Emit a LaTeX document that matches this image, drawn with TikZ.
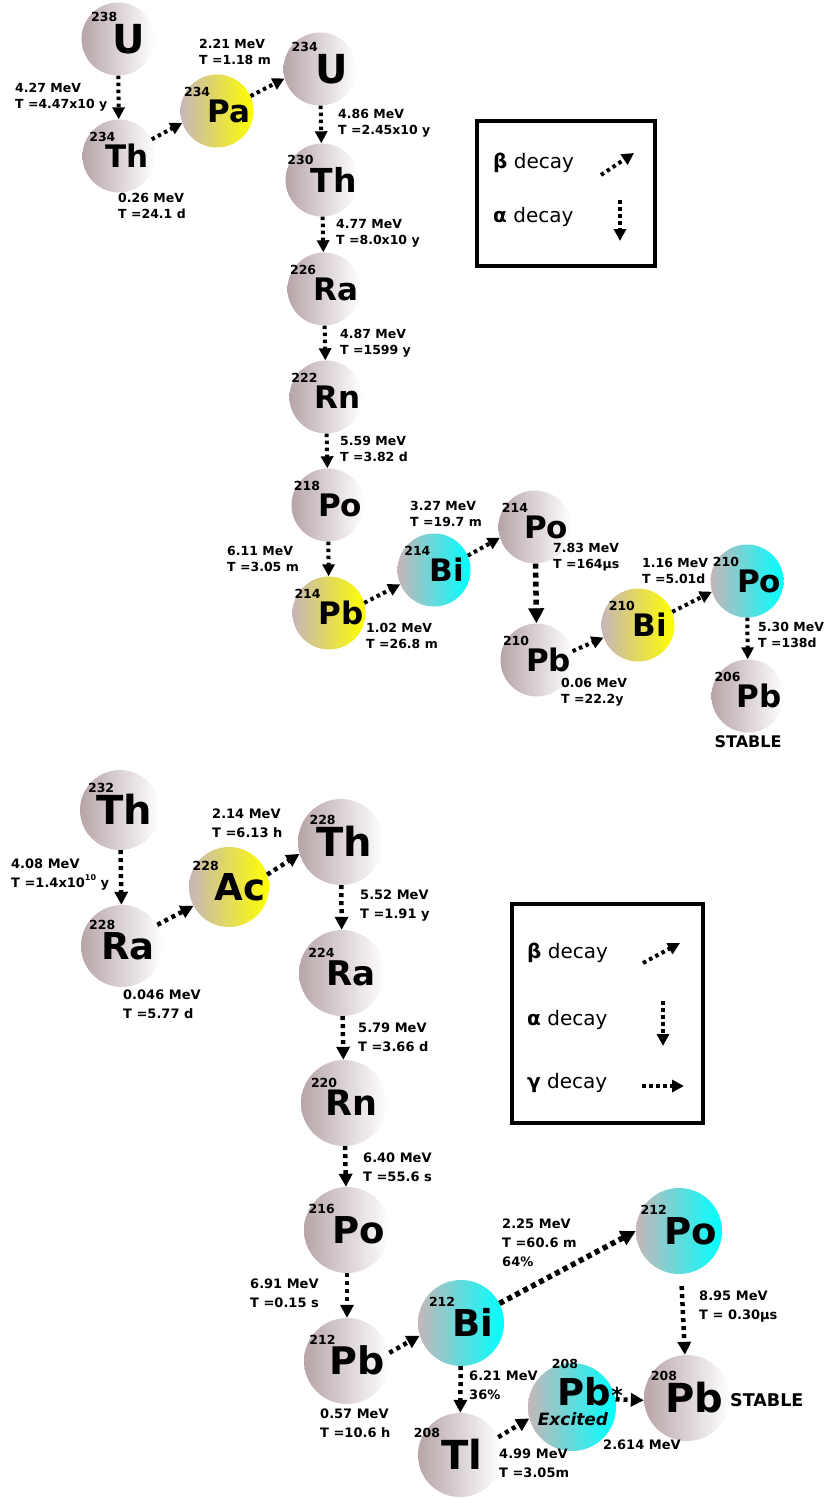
\documentclass[tikz,border=0pt]{standalone}
\usepackage{fontspec}
\setmainfont{DejaVu Sans}
\usetikzlibrary{arrows.meta,calc}

\definecolor{ballgrey}{RGB}{183,165,168}
\definecolor{balltint}{RGB}{198,182,184}
\definecolor{ballyellow}{RGB}{255,255,0}
\definecolor{ballcyan}{RGB}{0,255,255}

\tikzset{
  ball/.style={circle, inner sep=0pt, draw=none},
  greyball/.style={ball, left color=ballgrey, right color=white},
  yellowball/.style={ball, left color=balltint, right color=ballyellow},
  cyanball/.style={ball, left color=balltint, right color=ballcyan},
  decay/.style={line width=4pt, dash pattern=on 3.5pt off 3.5pt,
    -{Triangle[length=12pt,width=12pt]}},
  decayb/.style={line width=4.5pt, dash pattern=on 4pt off 4pt,
    -{Triangle[length=13pt,width=13pt]}},
  bigdecay/.style={line width=5.5pt, dash pattern=on 5pt off 4pt,
    -{Triangle[length=15pt,width=15pt]}},
  info/.style={font=\bfseries\fontsize{12.5}{16}\selectfont, align=left, anchor=west, inner sep=0pt},
  infob/.style={font=\bfseries\fontsize{13}{19}\selectfont, align=left, anchor=west, inner sep=0pt},
  legendbox/.style={draw, line width=4pt, inner sep=0pt, anchor=north west},
  legendtext/.style={font=\fontsize{20}{24}\selectfont, anchor=west, inner sep=0pt},
}

% name, centre, style, diameter, mass number, symbol, symbol size, kern, x shift
\newcommand\nuclide[9]{%
  \node[#3, minimum size=#4pt] (#1) at (#2) {};
  \pgfmathsetmacro\symdrop{0.729*#7/2}%
  \pgfmathsetmacro\massrise{0.729*#7+3}%
  \node[anchor=base, inner sep=0pt, font=\bfseries\fontsize{#7}{#7}\selectfont]
    (#1-sym) at ($(#1.center)+(#9,\symdrop)$)
    {\raisebox{\massrise pt}{\fontsize{12.5}{12.5}\selectfont #5}\kern#8pt #6};
}

\begin{document}
\begin{tikzpicture}[x=1pt, y=-1pt]
\useasboundingbox (0,0) rectangle (823,1498);

% ---------------- uranium series ----------------
\nuclide{U238}{118,39}{greyball}{73}{238}{U}{40}{-5}{0}
\nuclide{Th234}{119,156}{greyball}{73}{234}{Th}{31}{-10}{0}
\nuclide{Pa234}{217,111}{yellowball}{73}{234}{Pa}{31}{-3}{0}
\nuclide{U234}{320,69}{greyball}{73}{234}{U}{40}{-2}{0}
\nuclide{Th230}{322,180}{greyball}{73}{230}{Th}{33}{-3}{0}
\nuclide{Ra226}{324,289}{greyball}{73}{226}{Ra}{31}{-3}{0}
\nuclide{Rn222}{326,397}{greyball}{73}{222}{Rn}{31}{-3}{0}
\nuclide{Po218}{328,505}{greyball}{73}{218}{Po}{31}{-2}{0}
\nuclide{Pb214}{329,613}{yellowball}{73}{214}{Pb}{31}{-2}{0}
\nuclide{Bi214}{434,570}{cyanball}{73}{214}{Bi}{31}{-1}{0}
\nuclide{Po214}{535,527}{greyball}{73}{214}{Po}{31}{-4}{0}
\nuclide{Pb210}{537,660}{greyball}{73}{210}{Pb}{31}{-3}{0}
\nuclide{Bi210}{638,625}{yellowball}{73}{210}{Bi}{31}{-2}{0}
\nuclide{Po210}{747,581}{cyanball}{73}{210}{Po}{31}{-2}{0}
\nuclide{Pb206}{748,696}{greyball}{73}{206}{Pb}{31}{-4}{0}

\draw[decay] (U238) -- (Th234);
\draw[decay] (Th234.27) -- (Pa234.199);
\draw[decay] (Pa234.24) -- (U234.195);
\draw[decay] (U234) -- (Th230);
\draw[decay] (Th230) -- (Ra226);
\draw[decay] (Ra226) -- (Rn222);
\draw[decay] (Rn222) -- (Po218);
\draw[decay] (Po218) -- (Pb214);
\draw[decay] (Pb214.16) -- (Bi214.203);
\draw[decay] (Bi214.23) -- (Po214.197);
\draw[bigdecay] (Po214) -- (Pb210);
\draw[decay] (Pb210.14) -- (Bi210.200);
\draw[decay] (Bi210.21) -- (Po210.197);
\draw[decay] (Po210) -- (Pb206);

\node[info] (u1) at (15,97) {4.27 MeV\\T =4.47x10 y};
\node[info] (u2) at (118,206) {0.26 MeV\\T =24.1 d};
\node[info] (u3) at (199,52) {2.21 MeV\\T =1.18 m};
\node[info] (u4) at (338,123) {4.86 MeV\\T =2.45x10 y};
\node[info] (u5) at (336,233) {4.77 MeV\\T =8.0x10 y};
\node[info] (u6) at (340,343) {4.87 MeV\\T =1599 y};
\node[info] (u7) at (340,449) {5.59 MeV\\T =3.82 d};
\node[info] (u8) at (227,559) {6.11 MeV\\T =3.05 m};
\node[info] (u9) at (410,514) {3.27 MeV\\T =19.7 m};
\node[info] (u10) at (366,636) {1.02 MeV\\T =26.8 m};
\node[info] (u11) at (553,557) {7.83 MeV\\T =164μs};
\node[info] (u12) at (561,692) {0.06 MeV\\T =22.2y};
\node[info] (u13) at (642,571) {1.16 MeV\\T =5.01d};
\node[info] (u14) at (758,635) {5.30 MeV\\T =138d};
\node[font=\bfseries\fontsize{16}{16}\selectfont, inner sep=0pt] (ustable) at (748,742) {STABLE};

% legend of the uranium series
\node[legendbox, minimum width=178pt, minimum height=145pt] (legend1) at (475,119) {};
\node[legendtext] (l1beta) at (493,163) {\textbf{β} decay};
\node[legendtext] (l1alpha) at (493,217) {\textbf{α} decay};
\coordinate (l1bs) at (601,175);
\coordinate (l1be) at (634,153);
\coordinate (l1as) at (620,200);
\coordinate (l1ae) at (620,241);
\draw[decay] (l1bs) -- (l1be);
\draw[decay] (l1as) -- (l1ae);

% ---------------- thorium series ----------------
\nuclide{Th232}{120,810}{greyball}{80}{232}{Th}{40}{-18}{0}
\nuclide{Ra228}{122,946}{greyball}{82}{228}{Ra}{37}{-14}{0}
\nuclide{Ac228}{229,887}{yellowball}{80}{228}{Ac}{37}{-4}{0}
\nuclide{Th228}{341,842}{greyball}{86}{228}{Th}{40}{-19}{0}
\nuclide{Ra224}{342,973}{greyball}{86}{224}{Ra}{34}{-8}{0}
\nuclide{Rn220}{344,1103}{greyball}{86}{220}{Rn}{35}{-12}{0}
\nuclide{Po216}{347,1230}{greyball}{86}{216}{Po}{37}{-2}{0}
\nuclide{Pb212}{347,1361}{greyball}{86}{212}{Pb}{38}{-6}{0}
\nuclide{Bi212}{461,1323}{cyanball}{86}{212}{Bi}{37}{-3}{0}
\nuclide{Po212}{679,1231}{cyanball}{86}{212}{Po}{37}{-2}{0}
\nuclide{Pb208}{687,1398}{greyball}{86}{208}{Pb}{40}{-12}{0}
\nuclide{Tl208}{460,1455}{greyball}{84}{208}{Tl}{40}{1}{-12}

% excited lead
\node[cyanball, minimum size=88pt] (Pbx) at (572,1407) {};
\node[font=\bfseries\fontsize{37}{37}\selectfont, anchor=base, inner sep=0pt] (Pbx-sym) at (584,1405) {Pb};
\node[font=\bfseries\fontsize{12.5}{12.5}\selectfont, anchor=base, inner sep=0pt] (Pbx-mass) at (565,1368) {208};
\node[font=\bfseries\fontsize{22}{22}\selectfont, inner sep=0pt] (Pbx-star) at (617,1395) {*};
\node[font=\bfseries\itshape\fontsize{17}{17}\selectfont, inner sep=0pt] (Pbx-label) at (573,1419) {Excited};

\draw[decayb] (Th232) -- (Ra228);
\draw[decayb] (Ra228.31) -- (Ac228.208);
\draw[decayb] (Ac228.18) -- (Th228.196);
\draw[decayb] (Th228) -- (Ra224);
\draw[decayb] (Ra224) -- (Rn220);
\draw[decayb] (Rn220) -- (Po216);
\draw[decayb] (Po216) -- (Pb212);
\draw[decayb] (Pb212.11) -- (Bi212.197);
\draw[bigdecay] (Bi212.27) -- (Po212.180);
\draw[decayb] (Bi212) -- (Tl208);
\draw[decayb] (Tl208.25) -- (Pbx.195);
\draw[decayb] (Pbx.10) -- (Pb208.183);
\draw[decayb, shorten <=12pt] (Po212) -- (Pb208);

\node[infob] (t1) at (11,875) {4.08 MeV\\T =1.4x10\raisebox{7pt}{\fontsize{8}{8}\selectfont 10} y};
\node[infob] (t2) at (123,1004) {0.046 MeV\\T =5.77 d};
\node[infob] (t3) at (212,823) {2.14 MeV\\T =6.13 h};
\node[infob] (t4) at (360,906) {5.52 MeV\\T =1.91 y};
\node[infob] (t5) at (358,1037) {5.79 MeV\\T =3.66 d};
\node[infob] (t6) at (363,1167) {6.40 MeV\\T =55.6 s};
\node[infob] (t7) at (250,1293) {6.91 MeV\\T =0.15 s};
\node[infob] (t8) at (320,1423) {0.57 MeV\\T =10.6 h};
\node[infob] (t9) at (502,1243) {2.25 MeV\\T =60.6 m\\64\%};
\node[infob] (t10) at (469,1385) {6.21 MeV\\36\%};
\node[infob] (t11) at (499,1463) {4.99 MeV\\T =3.05m};
\node[infob] (t12) at (603,1445) {2.614 MeV};
\node[infob] (t13) at (699,1307) {8.95 MeV\\T = 0.30μs};
\node[font=\bfseries\fontsize{17.5}{17.5}\selectfont, anchor=west, inner sep=0pt] (tstable) at (730,1400) {STABLE};

% legend of the thorium series
\node[legendbox, minimum width=191pt, minimum height=219pt] (legend2) at (510,902) {};
\node[legendtext] (l2beta) at (527,953) {\textbf{β} decay};
\node[legendtext] (l2alpha) at (527,1020) {\textbf{α} decay};
\node[legendtext] (l2gamma) at (527,1083) {\textbf{γ} decay};
\coordinate (l2bs) at (643,963);
\coordinate (l2be) at (680,943);
\coordinate (l2as) at (663,1001);
\coordinate (l2ae) at (663,1046);
\coordinate (l2gs) at (642,1086);
\coordinate (l2ge) at (684,1086);
\draw[decay] (l2bs) -- (l2be);
\draw[decay] (l2as) -- (l2ae);
\draw[decay] (l2gs) -- (l2ge);
\end{tikzpicture}
\end{document}
